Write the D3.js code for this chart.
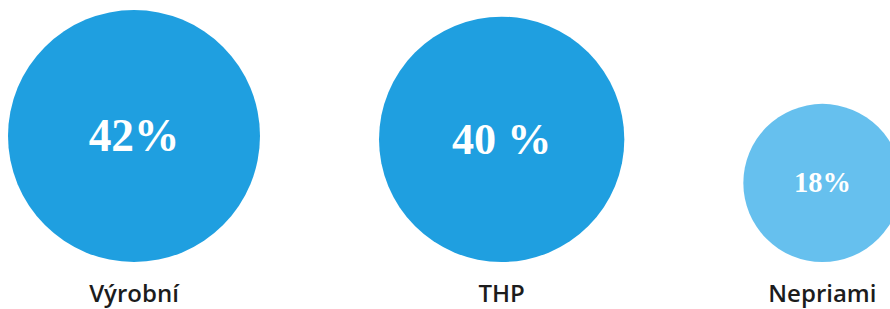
<!DOCTYPE html>
<html>
<head>
<meta charset="utf-8">
<script src="https://cdn.jsdelivr.net/npm/d3@7"></script>
<style>
  body { margin: 0; background: #fff; }
  svg { display: block; }
</style>
</head>
<body>
<div class="chart"></div>
<script>
const categories = ['Výrobní', 'THP', 'Nepriami']
const values = [42, 40, 18]
const valueLabels = ['42%', '40 %', '18%']
const colors = ['#1f9fe0', '#1f9fe0', '#66c0ee']

const svgWidth = 890
const svgHeight = 309
const startX = 8
const gap = 119
const baseY = 262

const svg = d3.select('.chart')
    .append('svg')
    .attr('width', svgWidth)
    .attr('height', svgHeight)

// radius grows with share of the total
const rScale = d3.scalePow()
    .exponent(0.55)
    .domain([0, d3.max(values)])
    .range([0, 126])

// lay circles side by side with equal gaps
let cursor = startX
const nodes = categories.map((c, i) => {
    const r = rScale(values[i])
    const cx = cursor + r
    cursor += 2 * r + gap
    return { name: c, value: values[i], label: valueLabels[i], color: colors[i], r, cx, cy: baseY - r }
})

const groups = svg.selectAll('.bubble')
    .data(nodes)
    .join('g')
    .attr('class', 'bubble')

groups.append('circle')
    .attr('cx', d => d.cx)
    .attr('cy', d => d.cy)
    .attr('r', d => d.r)
    .attr('fill', d => d.color)

groups.append('text')
    .attr('x', d => d.cx)
    .attr('y', d => d.cy)
    .attr('dy', '0.33em')
    .attr('text-anchor', 'middle')
    .style('font-family', '"Liberation Serif", "Times New Roman", serif')
    .style('font-weight', 'bold')
    .style('font-size', d => (d.r * 0.36) + 'px')
    .style('fill', '#fff')
    .text(d => d.label)

groups.append('text')
    .attr('x', d => d.cx)
    .attr('y', 302)
    .attr('text-anchor', 'middle')
    .style('font-family', '"Open Sans", sans-serif')
    .style('font-weight', 600)
    .style('font-size', '24px')
    .style('fill', '#1c1c1c')
    .text(d => d.name)
</script>
</body>
</html>
